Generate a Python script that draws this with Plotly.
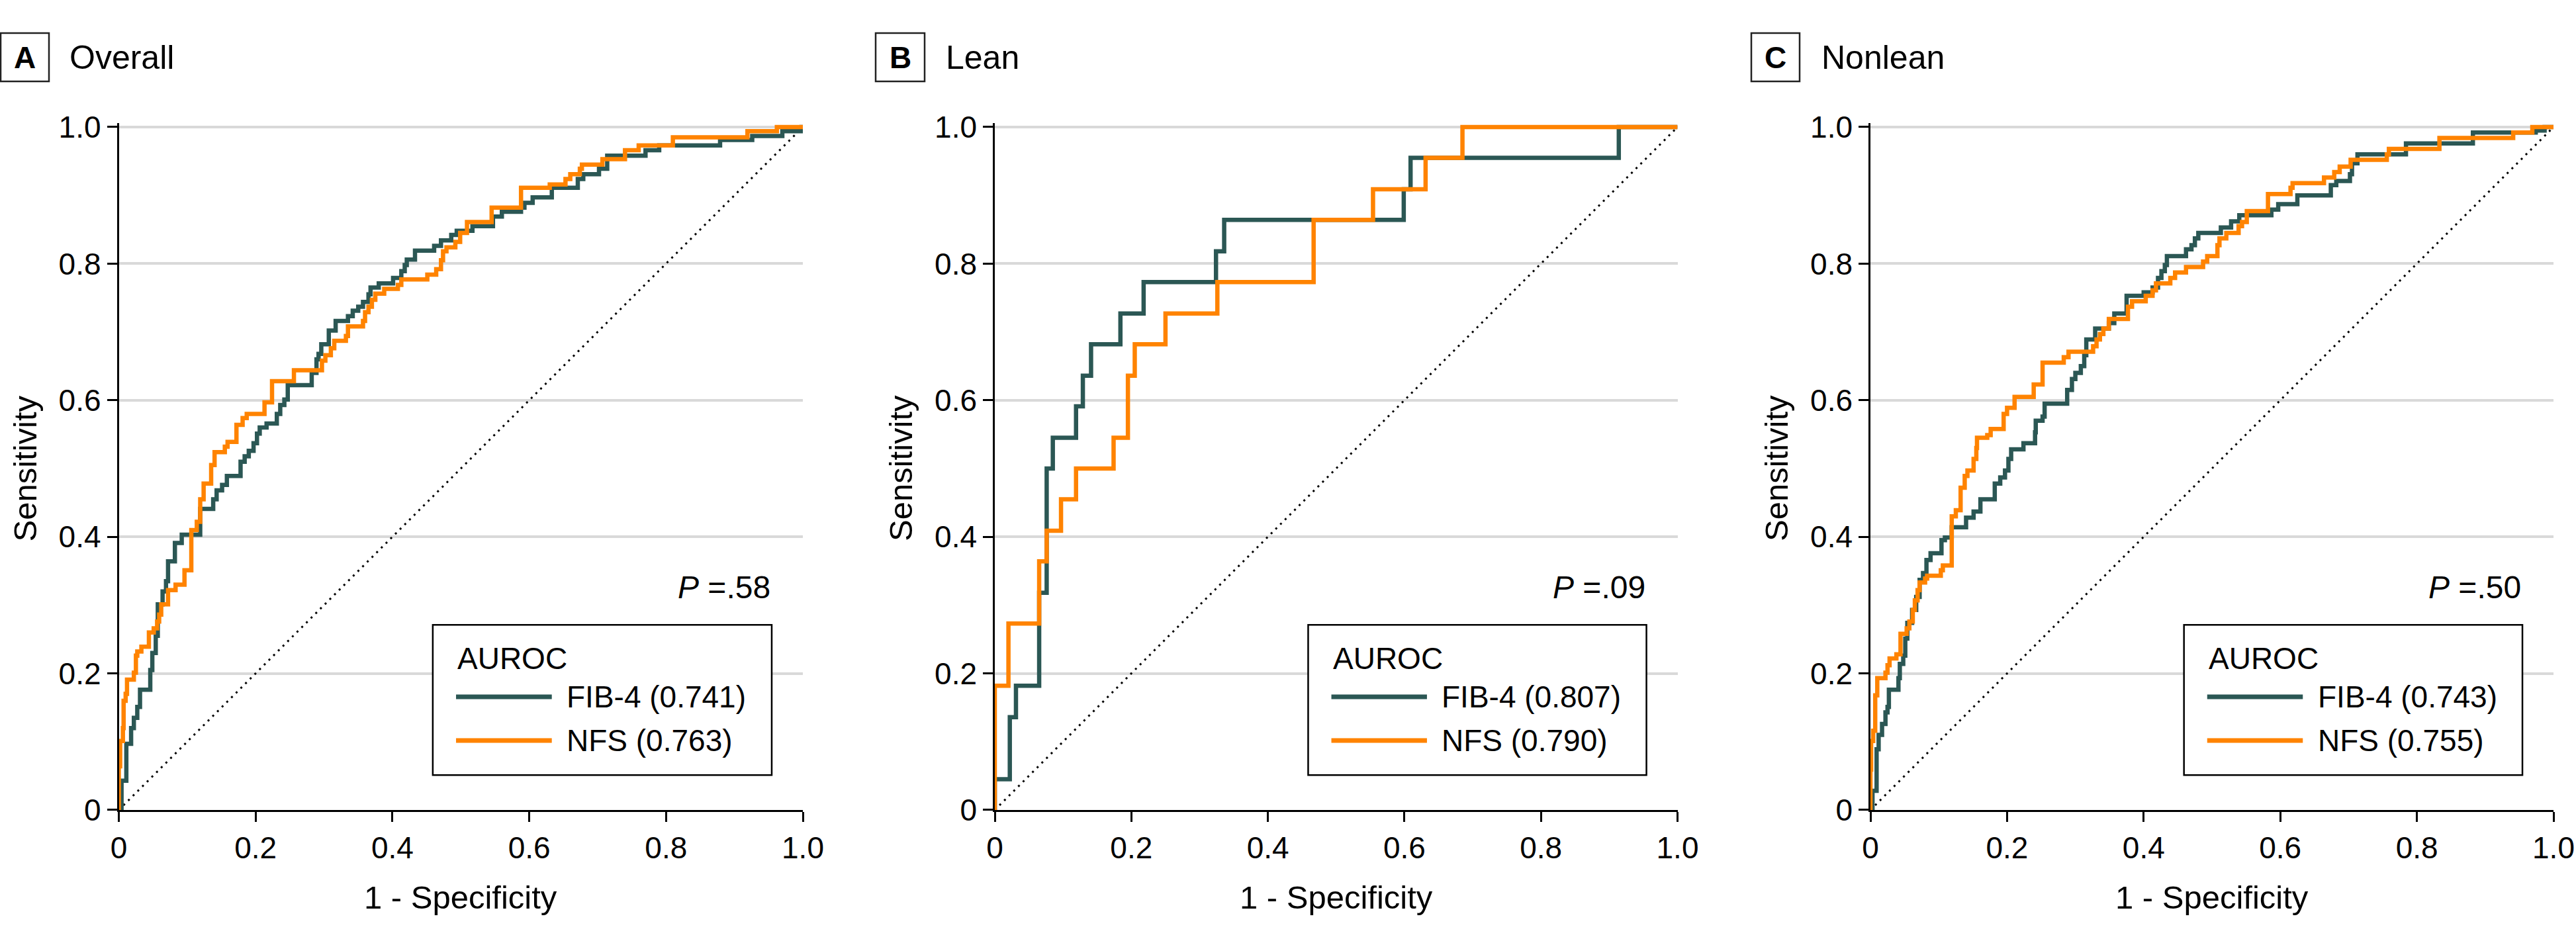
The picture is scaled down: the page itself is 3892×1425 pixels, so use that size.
import plotly.graph_objects as go

W, H = 3892, 1425
FONT = "Liberation Sans, Arial, sans-serif"
TEAL = "#2b5754"
ORANGE = "#ff8300"

# ---------------- data ----------------
PANEL_LETTERS = ["A", "B", "C"]
PANEL_TITLES = ["Overall", "Lean", "Nonlean"]
P_VALUES = [".58", ".09", ".50"]
AUROC_FIB4 = ["0.741", "0.807", "0.743"]
AUROC_NFS = ["0.763", "0.790", "0.755"]
TICK_VALS = [0, 0.2, 0.4, 0.6, 0.8, 1.0]
TICK_TEXT = ["0", "0.2", "0.4", "0.6", "0.8", "1.0"]
DIAG_X = [0, 1]
DIAG_Y = [0, 1]

# Panel A - Overall
A_FIB4_FPR = [0, 0.004, 0.011, 0.018, 0.022, 0.027, 0.031, 0.046, 0.049, 0.054, 0.057, 0.064, 0.069,
              0.072, 0.082, 0.092, 0.119, 0.138, 0.143, 0.151, 0.158, 0.178, 0.184, 0.190, 0.197, 0.202,
              0.206, 0.216, 0.231, 0.236, 0.242, 0.247, 0.282, 0.289, 0.292, 0.296, 0.307, 0.317, 0.335,
              0.342, 0.350, 0.357, 0.365, 0.368, 0.380, 0.401, 0.413, 0.418, 0.421, 0.433, 0.461, 0.471,
              0.486, 0.494, 0.517, 0.547, 0.560, 0.588, 0.593, 0.605, 0.633, 0.671, 0.679, 0.702, 0.714,
              0.770, 0.790, 0.879, 0.926, 0.970, 0.998, 1.0]
A_FIB4_TPR = [0, 0.043, 0.097, 0.120, 0.135, 0.151, 0.176, 0.205, 0.230, 0.255, 0.301, 0.320, 0.335,
              0.364, 0.391, 0.403, 0.441, 0.455, 0.468, 0.476, 0.489, 0.510, 0.518, 0.526, 0.537, 0.551,
              0.560, 0.566, 0.580, 0.593, 0.601, 0.622, 0.640, 0.660, 0.668, 0.682, 0.702, 0.716, 0.723,
              0.731, 0.737, 0.744, 0.755, 0.765, 0.771, 0.779, 0.789, 0.798, 0.806, 0.819, 0.826, 0.834,
              0.842, 0.848, 0.855, 0.869, 0.876, 0.882, 0.889, 0.897, 0.911, 0.924, 0.931, 0.939, 0.958,
              0.966, 0.973, 0.981, 0.987, 0.994, 1.0, 1.0]
A_NFS_FPR = [0, 0.000, 0.002, 0.006, 0.007, 0.010, 0.012, 0.022, 0.025, 0.027, 0.033, 0.044, 0.051,
             0.056, 0.059, 0.062, 0.072, 0.083, 0.096, 0.106, 0.114, 0.119, 0.124, 0.135, 0.140, 0.155,
             0.159, 0.172, 0.181, 0.187, 0.213, 0.224, 0.256, 0.297, 0.302, 0.310, 0.315, 0.332, 0.335,
             0.357, 0.360, 0.365, 0.370, 0.375, 0.388, 0.408, 0.413, 0.451, 0.464, 0.471, 0.474, 0.479,
             0.492, 0.499, 0.509, 0.545, 0.588, 0.630, 0.653, 0.660, 0.674, 0.677, 0.707, 0.740, 0.760,
             0.810, 0.919, 0.962, 1.0]
A_NFS_TPR = [0, 0.064, 0.101, 0.120, 0.160, 0.170, 0.191, 0.201, 0.226, 0.232, 0.239, 0.260, 0.266,
             0.276, 0.286, 0.301, 0.322, 0.330, 0.351, 0.410, 0.422, 0.455, 0.478, 0.505, 0.524, 0.532,
             0.539, 0.564, 0.574, 0.580, 0.597, 0.628, 0.644, 0.658, 0.666, 0.676, 0.687, 0.694, 0.708,
             0.716, 0.729, 0.737, 0.747, 0.756, 0.763, 0.769, 0.777, 0.784, 0.792, 0.805, 0.818, 0.824,
             0.832, 0.845, 0.861, 0.882, 0.911, 0.916, 0.924, 0.931, 0.939, 0.945, 0.953, 0.966, 0.973,
             0.985, 0.994, 1.0, 1.0]

# Panel B - Lean
B_FIB4_FPR = [0, 0, 0.022, 0.031, 0.065, 0.076, 0.085, 0.119, 0.129, 0.141, 0.184, 0.218, 0.324,
              0.336, 0.599, 0.609, 0.914, 1.0]
B_FIB4_TPR = [0, 0.045, 0.136, 0.182, 0.318, 0.500, 0.545, 0.591, 0.636, 0.682, 0.727, 0.773, 0.818,
              0.864, 0.909, 0.955, 1.0, 1.0]
B_NFS_FPR = [0, 0, 0.020, 0.065, 0.076, 0.097, 0.119, 0.174, 0.195, 0.205, 0.250, 0.326, 0.467,
             0.554, 0.631, 0.685, 1.0]
B_NFS_TPR = [0, 0.182, 0.273, 0.364, 0.409, 0.455, 0.500, 0.545, 0.636, 0.682, 0.727, 0.773, 0.864,
             0.909, 0.955, 1.0, 1.0]

# Panel C - Nonlean
C_FIB4_FPR = [0, 0.003, 0.009, 0.012, 0.017, 0.022, 0.025, 0.027, 0.041, 0.043, 0.048, 0.051, 0.054,
              0.061, 0.067, 0.072, 0.077, 0.082, 0.088, 0.104, 0.109, 0.119, 0.140, 0.151, 0.161, 0.182,
              0.190, 0.197, 0.202, 0.206, 0.224, 0.241, 0.242, 0.252, 0.255, 0.288, 0.295, 0.300, 0.308,
              0.313, 0.316, 0.329, 0.349, 0.357, 0.375, 0.400, 0.413, 0.421, 0.426, 0.431, 0.434, 0.462,
              0.470, 0.475, 0.480, 0.513, 0.528, 0.540, 0.587, 0.597, 0.625, 0.674, 0.682, 0.702, 0.705,
              0.713, 0.784, 0.882, 0.974, 0.987, 1.0]
C_FIB4_TPR = [0, 0.028, 0.089, 0.110, 0.126, 0.143, 0.151, 0.176, 0.193, 0.214, 0.226, 0.251, 0.274,
              0.293, 0.312, 0.337, 0.347, 0.366, 0.376, 0.395, 0.399, 0.414, 0.428, 0.437, 0.455, 0.478,
              0.487, 0.497, 0.514, 0.528, 0.537, 0.553, 0.570, 0.576, 0.595, 0.615, 0.631, 0.640, 0.650,
              0.666, 0.689, 0.705, 0.713, 0.727, 0.753, 0.758, 0.765, 0.779, 0.789, 0.798, 0.811, 0.821,
              0.827, 0.837, 0.845, 0.853, 0.862, 0.871, 0.879, 0.887, 0.900, 0.915, 0.921, 0.931, 0.947,
              0.960, 0.976, 0.992, 0.995, 1.0, 1.0]
C_NFS_FPR = [0, 0.0, 0.001, 0.004, 0.007, 0.010, 0.022, 0.025, 0.028, 0.038, 0.044, 0.053, 0.057,
             0.062, 0.065, 0.069, 0.072, 0.080, 0.083, 0.103, 0.106, 0.119, 0.125, 0.132, 0.138, 0.142,
             0.151, 0.155, 0.156, 0.171, 0.176, 0.195, 0.200, 0.211, 0.239, 0.252, 0.283, 0.290, 0.326,
             0.331, 0.336, 0.341, 0.349, 0.377, 0.383, 0.403, 0.413, 0.418, 0.439, 0.446, 0.462, 0.487,
             0.493, 0.508, 0.511, 0.521, 0.539, 0.544, 0.551, 0.582, 0.615, 0.618, 0.664, 0.679, 0.687,
             0.703, 0.756, 0.759, 0.833, 0.941, 0.969, 1.0]
C_NFS_TPR = [0, 0.059, 0.101, 0.116, 0.168, 0.193, 0.201, 0.212, 0.222, 0.228, 0.258, 0.266, 0.276,
             0.293, 0.307, 0.322, 0.333, 0.339, 0.343, 0.351, 0.358, 0.430, 0.439, 0.472, 0.489, 0.497,
             0.514, 0.530, 0.545, 0.549, 0.558, 0.580, 0.589, 0.605, 0.623, 0.655, 0.663, 0.671, 0.679,
             0.689, 0.697, 0.705, 0.719, 0.737, 0.745, 0.753, 0.761, 0.771, 0.779, 0.787, 0.795, 0.803,
             0.811, 0.827, 0.837, 0.845, 0.855, 0.861, 0.877, 0.902, 0.911, 0.918, 0.926, 0.934, 0.942,
             0.952, 0.960, 0.968, 0.984, 0.992, 1.0, 1.0]

SERIES = [
    (A_FIB4_FPR, A_FIB4_TPR, A_NFS_FPR, A_NFS_TPR),
    (B_FIB4_FPR, B_FIB4_TPR, B_NFS_FPR, B_NFS_TPR),
    (C_FIB4_FPR, C_FIB4_TPR, C_NFS_FPR, C_NFS_TPR),
]

# ---------------- layout geometry (pixels) ----------------
PANEL_X = [(179.5, 1213.0), (1503.0, 2534.5), (2826.0, 3858.0)]
Y_ZERO_PX, Y_ONE_PX = 1224.0, 192.0
Y_TOP = 1.006
TITLE_BOX_X = [(1, 74), (1323, 1397), (2646, 2719)]
TITLE_TEXT_X = [103, 1427, 2750]


def px(x):
    return x / W


def py(y):
    return 1 - y / H


fig = go.Figure()
annotations = []
shapes = []
y_top_px = Y_ONE_PX - (Y_TOP - 1.0) * (Y_ZERO_PX - Y_ONE_PX)

for i in range(3):
    sfx = "" if i == 0 else str(i + 1)
    xa, ya = "x" + sfx, "y" + sfx
    fx, fy, nx, ny = SERIES[i]

    fig.add_trace(go.Scatter(x=DIAG_X, y=DIAG_Y, mode="lines", xaxis=xa, yaxis=ya,
                             line=dict(color="black", width=3, dash="3px,7px"),
                             showlegend=False, hoverinfo="skip"))
    fig.add_trace(go.Scatter(x=fx, y=fy, mode="lines", xaxis=xa, yaxis=ya, name="FIB-4",
                             line=dict(color=TEAL, width=6.5, shape="hv"), showlegend=False))
    fig.add_trace(go.Scatter(x=nx, y=ny, mode="lines", xaxis=xa, yaxis=ya, name="NFS",
                             line=dict(color=ORANGE, width=6.5, shape="hv"), showlegend=False))

    x0, x1 = PANEL_X[i]
    axis_common = dict(tickvals=TICK_VALS, ticktext=TICK_TEXT, ticks="outside", ticklen=15,
                       tickwidth=2.5, tickcolor="black", showline=True, linecolor="black",
                       linewidth=2.5, zeroline=False, fixedrange=True, automargin=False,
                       ticklabeloverflow="allow",
                       tickfont=dict(family=FONT, size=46, color="black"))
    fig.layout["xaxis" + sfx] = dict(domain=[px(x0), px(x1)], range=[0, 1], anchor=ya,
                                     showgrid=False, **axis_common)
    fig.layout["yaxis" + sfx] = dict(domain=[py(Y_ZERO_PX), py(y_top_px)], range=[0, Y_TOP],
                                     anchor=xa, showgrid=True, gridcolor="#d9d9d9", gridwidth=3.5,
                                     **axis_common)

    # panel title
    bx0, bx1 = TITLE_BOX_X[i]
    shapes.append(dict(type="rect", xref="paper", yref="paper", x0=px(bx0), x1=px(bx1),
                       y0=py(123), y1=py(50), line=dict(color="#222", width=2.5)))
    annotations.append(dict(text="<b>%s</b>" % PANEL_LETTERS[i], xref="paper", yref="paper",
                            x=px((bx0 + bx1) / 2), y=py(87), xanchor="center", yanchor="middle",
                            showarrow=False, font=dict(family=FONT, size=46, color="black")))
    annotations.append(dict(text=PANEL_TITLES[i], xref="paper", yref="paper",
                            x=px(TITLE_TEXT_X[i]), y=py(87), xanchor="left", yanchor="middle",
                            showarrow=False, font=dict(family=FONT, size=50, color="black")))

    # axis titles
    annotations.append(dict(text="Sensitivity", xref="paper", yref="paper", x=px(x0 - 142),
                            y=py((Y_ZERO_PX + Y_ONE_PX) / 2), textangle=-90, xanchor="center",
                            yanchor="middle", showarrow=False,
                            font=dict(family=FONT, size=49, color="black")))
    annotations.append(dict(text="1 - Specificity", xref="paper", yref="paper",
                            x=px((x0 + x1) / 2), y=py(1356), xanchor="center", yanchor="middle",
                            showarrow=False, font=dict(family=FONT, size=49, color="black")))

    # P value
    annotations.append(dict(text="<i>P</i> =%s" % P_VALUES[i], xref=xa, yref=ya, x=0.9545,
                            y=0.3256, xanchor="right", yanchor="middle", showarrow=False,
                            font=dict(family=FONT, size=48, color="black")))

    # legend box
    shapes.append(dict(type="rect", xref=xa, yref=ya, x0=0.459, x1=0.9545, y0=0.051, y1=0.271,
                       line=dict(color="black", width=2.5), fillcolor="white", layer="above"))
    annotations.append(dict(text="AUROC", xref=xa, yref=ya, x=0.493, y=0.222, xanchor="left",
                            yanchor="middle", showarrow=False,
                            font=dict(family=FONT, size=46, color="black")))
    for yy, col, lab in [(0.1657, TEAL, "FIB-4 (%s)" % AUROC_FIB4[i]),
                         (0.1017, ORANGE, "NFS (%s)" % AUROC_NFS[i])]:
        shapes.append(dict(type="line", xref=xa, yref=ya, x0=0.493, x1=0.633, y0=yy, y1=yy,
                           line=dict(color=col, width=7), layer="above"))
        annotations.append(dict(text=lab, xref=xa, yref=ya, x=0.6527, y=yy, xanchor="left",
                                yanchor="middle", showarrow=False,
                                font=dict(family=FONT, size=46, color="black")))

fig.update_layout(width=W, height=H, autosize=False, margin=dict(l=0, r=0, t=0, b=0),
                  paper_bgcolor="white", plot_bgcolor="white", showlegend=False,
                  font=dict(family=FONT, color="black"),
                  annotations=annotations, shapes=shapes)

fig.write_html("out.html", config={"displayModeBar": False},
               post_script="document.body.style.margin='0';document.body.style.overflow='hidden';")
